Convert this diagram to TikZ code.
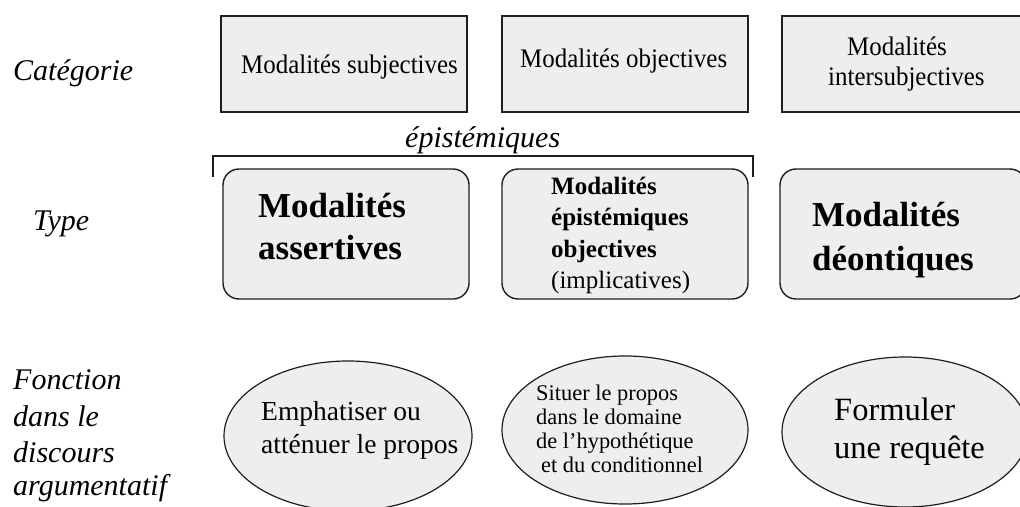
\documentclass[tikz,border=0pt]{standalone}
\usepackage{fontspec}
\setmainfont{Liberation Serif}
\newfontfamily\condfont[FakeStretch=0.93]{Liberation Serif}
\usetikzlibrary{shapes.geometric}
\definecolor{boxgray}{RGB}{238,238,238}
\definecolor{linegray}{RGB}{30,30,30}
\tikzset{
  catbox/.style={rectangle, draw=linegray, line width=1.7pt, fill=boxgray, inner sep=0pt,
                 minimum width=246pt, minimum height=96pt},
  typebox/.style={rectangle, rounded corners=16pt, draw=linegray, line width=1.4pt, fill=boxgray,
                  inner sep=0pt, minimum width=246pt, minimum height=130pt},
  foncell/.style={ellipse, draw=linegray, line width=1.2pt, fill=boxgray, inner sep=0pt},
  txt/.style={inner sep=0pt, anchor=base west, text=black},
  lbl/.style={txt, font=\fontsize{30}{36}\selectfont\itshape},
  cattxt/.style={txt, font=\condfont\fontsize{26.8}{30}\selectfont},
  bigbold/.style={txt, font=\fontsize{35}{42}\selectfont\bfseries},
  midbold/.style={txt, font=\fontsize{25}{30}\selectfont\bfseries},
  midreg/.style={txt, font=\fontsize{25}{30}\selectfont},
  bracket/.style={draw=linegray, line width=1.5pt},
}
\begin{document}
\begin{tikzpicture}[x=1pt, y=-1pt]
\useasboundingbox (0,0) rectangle (1020,506);
\clip (0,0) rectangle (1020,506);
\fill[white] (0,0) rectangle (1020,506);

% left labels
\node[lbl] (lcat) at (13,80) {Catégorie};
\node[lbl] (ltype) at (33,230) {Type};
\node[lbl] (lf1) at (13,389) {Fonction};
\node[lbl] (lf2) at (13,426) {dans le};
\node[lbl] (lf3) at (13,462) {discours};
\node[lbl] (lf4) at (13,495) {argumentatif};

% category boxes
\node[catbox] (c1) at (344,64) {};
\node[catbox] (c2) at (625,64) {};
\node[catbox] (c3) at (905,64) {};
\node[cattxt] (c1t) at (241,73) {Modalités subjectives};
\node[cattxt] (c2t) at (520,67) {Modalités objectives};
\node[cattxt] (c3t1) at (847,55) {Modalités};
\node[cattxt] (c3t2) at (828,85) {intersubjectives};

% bracket
\coordinate (bl) at (213,177);
\coordinate (br) at (753,177);
\coordinate (brtop) at (753,156);
\draw[bracket] (bl) |- (brtop) -- (br);
\node[lbl] (epi) at (405,147) {épistémiques};

% type boxes
\node[typebox] (tA) at (346,234) {};
\node[typebox] (tB) at (625,234) {};
\node[typebox] (tC) at (903,234) {};
\node[bigbold] (tA1) at (258,217) {Modalités};
\node[bigbold] (tA2) at (258,259) {assertives};
\node[midbold] (tB1) at (551,194) {Modalités};
\node[midbold] (tB2) at (551,225) {épistémiques};
\node[midbold] (tB3) at (551,257) {objectives};
\node[midreg] (tB4) at (551,288) {(implicatives)};
\node[bigbold] (tC1) at (812,226) {Modalités};
\node[bigbold] (tC2) at (812,270) {déontiques};

% function ellipses
\node[foncell, minimum width=248pt, minimum height=150pt] (f1) at (348,436) {};
\node[foncell, minimum width=246pt, minimum height=148pt] (f2) at (625,430) {};
\node[foncell, minimum width=246pt, minimum height=150pt] (f3) at (905,432) {};
\node[txt, font=\fontsize{27.5}{33}\selectfont] (f1a) at (261,420) {Emphatiser ou};
\node[txt, font=\fontsize{27.5}{33}\selectfont] (f1b) at (261,453) {atténuer le propos};
\node[txt, font=\fontsize{22.4}{24}\selectfont] (f2a) at (536,400) {Situer le propos};
\node[txt, font=\fontsize{22.4}{24}\selectfont] (f2b) at (536,424) {dans le domaine};
\node[txt, font=\fontsize{22.4}{24}\selectfont] (f2c) at (536,448) {de l’hypothétique};
\node[txt, font=\fontsize{22.4}{24}\selectfont] (f2d) at (541,472) {et du conditionnel};
\node[txt, font=\fontsize{32.5}{38}\selectfont] (f3a) at (834,420) {Formuler};
\node[txt, font=\fontsize{32.5}{38}\selectfont] (f3b) at (834,458) {une requête};
\end{tikzpicture}
\end{document}
